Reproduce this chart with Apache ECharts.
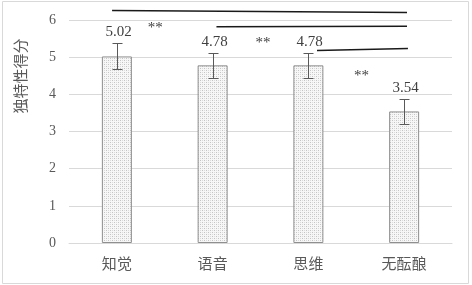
<!DOCTYPE html>
<html><head><meta charset="utf-8">
<script src="https://cdn.jsdelivr.net/npm/echarts@6/dist/echarts.min.js"></script>
<style>html,body{margin:0;padding:0;background:#fff}#c{width:472px;height:285px}</style>
</head><body><div id="c"></div>
<script>
const categories = ['知觉', '语音', '思维', '无酝酿'];
const means = [5.02, 4.78, 4.78, 3.54];
const errors = [0.35, 0.34, 0.33, 0.34];
const yTicks = [0, 1, 2, 3, 4, 5, 6];
const yAxisTitle = '独特性得分';
// significance brackets: [xStart(category index), yStart, xEnd(category index), yEnd]
const sigLines = [[-0.05, 6.255, 3.03, 6.20], [1.04, 5.82, 3.03, 5.83], [2.09, 5.18, 3.04, 5.235]];
// significance marks: [x(category index), y, text]
const sigMarks = [[0.4, 5.78, '**'], [1.525, 5.38, '**'], [2.555, 4.49, '**']];

const TXT = '#595959';
const SERIF = 'Liberation Serif, Times New Roman, serif';
const CJK = 'Noto Sans CJK SC, sans-serif';

// dotted fill pattern
const pc = document.createElement('canvas');
pc.width = 4; pc.height = 4;
const pctx = pc.getContext('2d');
pctx.fillStyle = '#f7f7f7'; pctx.fillRect(0, 0, 4, 4);
pctx.fillStyle = '#c4c4c4';
pctx.fillRect(0, 0, 1, 1); pctx.fillRect(2, 2, 1, 1);
pctx.fillStyle = '#dcdcdc';
pctx.fillRect(2, 0, 1, 1); pctx.fillRect(0, 2, 1, 1);

function xAt(api, v, y) {
  const a = api.coord([0, y]), b = api.coord([1, y]);
  return [a[0] + v * (b[0] - a[0]), a[1]];
}
const r = v => Math.round(v) + 0.5;

const chart = echarts.init(document.getElementById('c'), null, {renderer: 'canvas'});
chart.setOption({
  animation: false,
  grid: {left: 69, right: 20, top: 20, bottom: 42},
  graphic: [
    {type: 'rect', shape: {x: 2.5, y: 1.5, width: 466, height: 282}, style: {fill: 'none', stroke: '#d9d9d9', lineWidth: 1}, z: -1},
    {type: 'text', x: 20, y: 76, rotation: Math.PI / 2,
      style: {text: yAxisTitle, font: '15px ' + CJK, fill: TXT, textAlign: 'center', textVerticalAlign: 'middle'}}
  ],
  xAxis: {
    type: 'category', data: categories,
    axisLine: {lineStyle: {color: '#d9d9d9'}},
    axisTick: {show: false},
    axisLabel: {color: TXT, fontSize: 15, fontFamily: CJK, margin: 13}
  },
  yAxis: {
    type: 'value', min: yTicks[0], max: yTicks[yTicks.length - 1], interval: 1,
    axisLine: {show: false}, axisTick: {show: false},
    splitLine: {lineStyle: {color: '#d9d9d9'}},
    axisLabel: {color: TXT, fontSize: 14, fontFamily: SERIF, margin: 13}
  },
  series: [
    {
      type: 'bar', data: means, barWidth: 30,
      itemStyle: {color: {image: pc, repeat: 'repeat'}, borderColor: '#8f8f8f', borderWidth: 1}
    },
    {
      type: 'custom', z: 5,
      data: means.map((m, i) => [i, m - errors[i], m + errors[i], m]),
      encode: {x: 0, y: [1, 2]},
      renderItem(params, api) {
        const i = api.value(0);
        const lo = api.coord([i, api.value(1)]);
        const hi = api.coord([i, api.value(2)]);
        const x = r(lo[0]), cap = 5;
        const st = {stroke: '#595959', lineWidth: 1};
        return {type: 'group', children: [
          {type: 'line', shape: {x1: x, y1: r(hi[1]), x2: x, y2: r(lo[1])}, style: st},
          {type: 'line', shape: {x1: x - cap, y1: r(hi[1]), x2: x + cap, y2: r(hi[1])}, style: st},
          {type: 'line', shape: {x1: x - cap, y1: r(lo[1]), x2: x + cap, y2: r(lo[1])}, style: st},
          {type: 'text', x: x + 1, y: hi[1] - 11,
            style: {text: api.value(3).toFixed(2), font: '15px ' + SERIF, fill: '#404040', textAlign: 'center', textVerticalAlign: 'middle'}}
        ]};
      }
    },
    {
      type: 'custom', z: 6, clip: false,
      data: sigLines,
      encode: {x: [0, 2], y: [1, 3]},
      renderItem(params, api) {
        const p1 = xAt(api, api.value(0), api.value(1));
        const p2 = xAt(api, api.value(2), api.value(3));
        return {type: 'line', shape: {x1: p1[0], y1: p1[1], x2: p2[0], y2: p2[1]},
          style: {stroke: '#1a1a1a', lineWidth: 1.5}};
      }
    },
    {
      type: 'custom', z: 6, clip: false,
      data: sigMarks,
      encode: {x: 0, y: 1},
      renderItem(params, api) {
        const p = xAt(api, api.value(0), api.value(1));
        return {type: 'text', x: p[0], y: p[1],
          style: {text: sigMarks[params.dataIndex][2], font: '15px ' + SERIF, fill: '#404040', textAlign: 'center', textVerticalAlign: 'middle'}};
      }
    }
  ]
});
</script>
</body></html>
